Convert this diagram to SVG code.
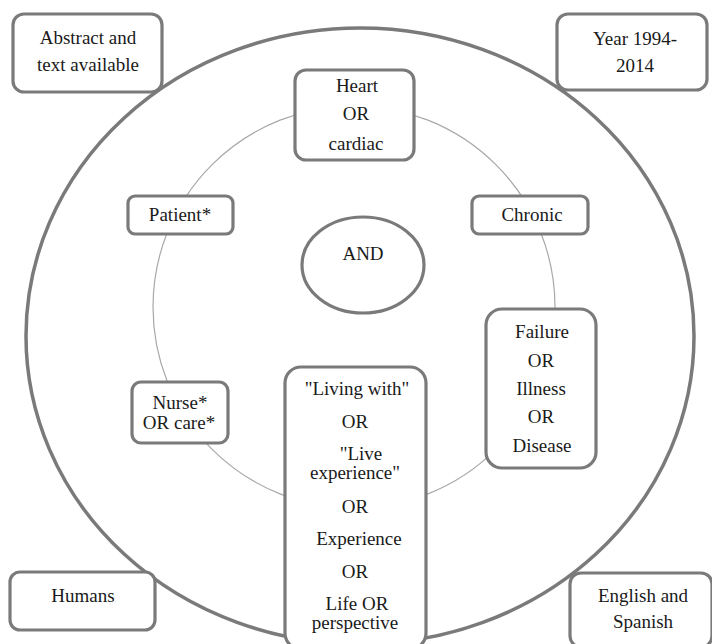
<svg xmlns="http://www.w3.org/2000/svg" width="712" height="644" viewBox="0 0 712 644">
<style>
.box{fill:#fff;stroke:#7a7a7a;stroke-width:3.2}
.t{font-family:"Liberation Serif","Times New Roman",serif;font-size:19px;fill:#1a1a1a;text-anchor:middle}
.ring{fill:none;stroke:#7a7a7a;stroke-width:3.5}
.inner{fill:none;stroke:#a8a8a8;stroke-width:1.2}
</style>
<rect width="712" height="644" fill="#fff"/>
<g id="connectors">
<ellipse class="ring" cx="360" cy="336" rx="334" ry="308"/>
<circle class="inner" cx="354" cy="307" r="201"/>
</g>
<g id="abstract"><rect class="box" x="13" y="14" width="149" height="78" rx="11"/><text class="t" x="88" y="44">Abstract and</text><text class="t" x="88" y="71">text available</text></g>
<g id="year"><rect class="box" x="557" y="14" width="150" height="76" rx="11"/><text class="t" x="635" y="45">Year 1994-</text><text class="t" x="635" y="72">2014</text></g>
<g id="heart"><rect class="box" x="295" y="70" width="119" height="90" rx="11"/><text class="t" x="357" y="92">Heart</text><text class="t" x="356" y="120">OR</text><text class="t" x="356" y="150">cardiac</text></g>
<g id="patient"><rect class="box" x="128" y="196" width="105" height="38" rx="7"/><text class="t" x="180" y="221">Patient*</text></g>
<g id="chronic"><rect class="box" x="472" y="196" width="116" height="38" rx="7"/><text class="t" x="532" y="221">Chronic</text></g>
<g id="and"><ellipse cx="363" cy="265" rx="61" ry="48" fill="#fff" stroke="#7a7a7a" stroke-width="3.2"/><text class="t" x="363" y="260">AND</text></g>
<g id="failure"><rect class="box" x="486" y="309" width="110" height="159" rx="16"/><text class="t" x="542" y="338">Failure</text><text class="t" x="541" y="367">OR</text><text class="t" x="541" y="395">Illness</text><text class="t" x="541" y="423">OR</text><text class="t" x="542" y="452">Disease</text></g>
<g id="nurse"><rect class="box" x="132" y="382" width="96" height="61" rx="9"/><text class="t" x="180" y="409">Nurse*</text><text class="t" x="179" y="429">OR care*</text></g>
<g id="living"><rect class="box" x="285" y="367" width="141" height="282" rx="16"/><text class="t" x="357" y="395">"Living with"</text><text class="t" x="355" y="428">OR</text><text class="t" x="361" y="460">"Live</text><text class="t" x="355" y="479">experience"</text><text class="t" x="355" y="513">OR</text><text class="t" x="359" y="545">Experience</text><text class="t" x="355" y="578">OR</text><text class="t" x="357" y="610">Life OR</text><text class="t" x="355" y="629">perspective</text></g>
<g id="humans"><rect class="box" x="10" y="572" width="145" height="58" rx="10"/><text class="t" x="83" y="602">Humans</text></g>
<g id="english"><rect class="box" x="570" y="573" width="142" height="74" rx="11"/><text class="t" x="643" y="602">English and</text><text class="t" x="643" y="628">Spanish</text></g>
</svg>
